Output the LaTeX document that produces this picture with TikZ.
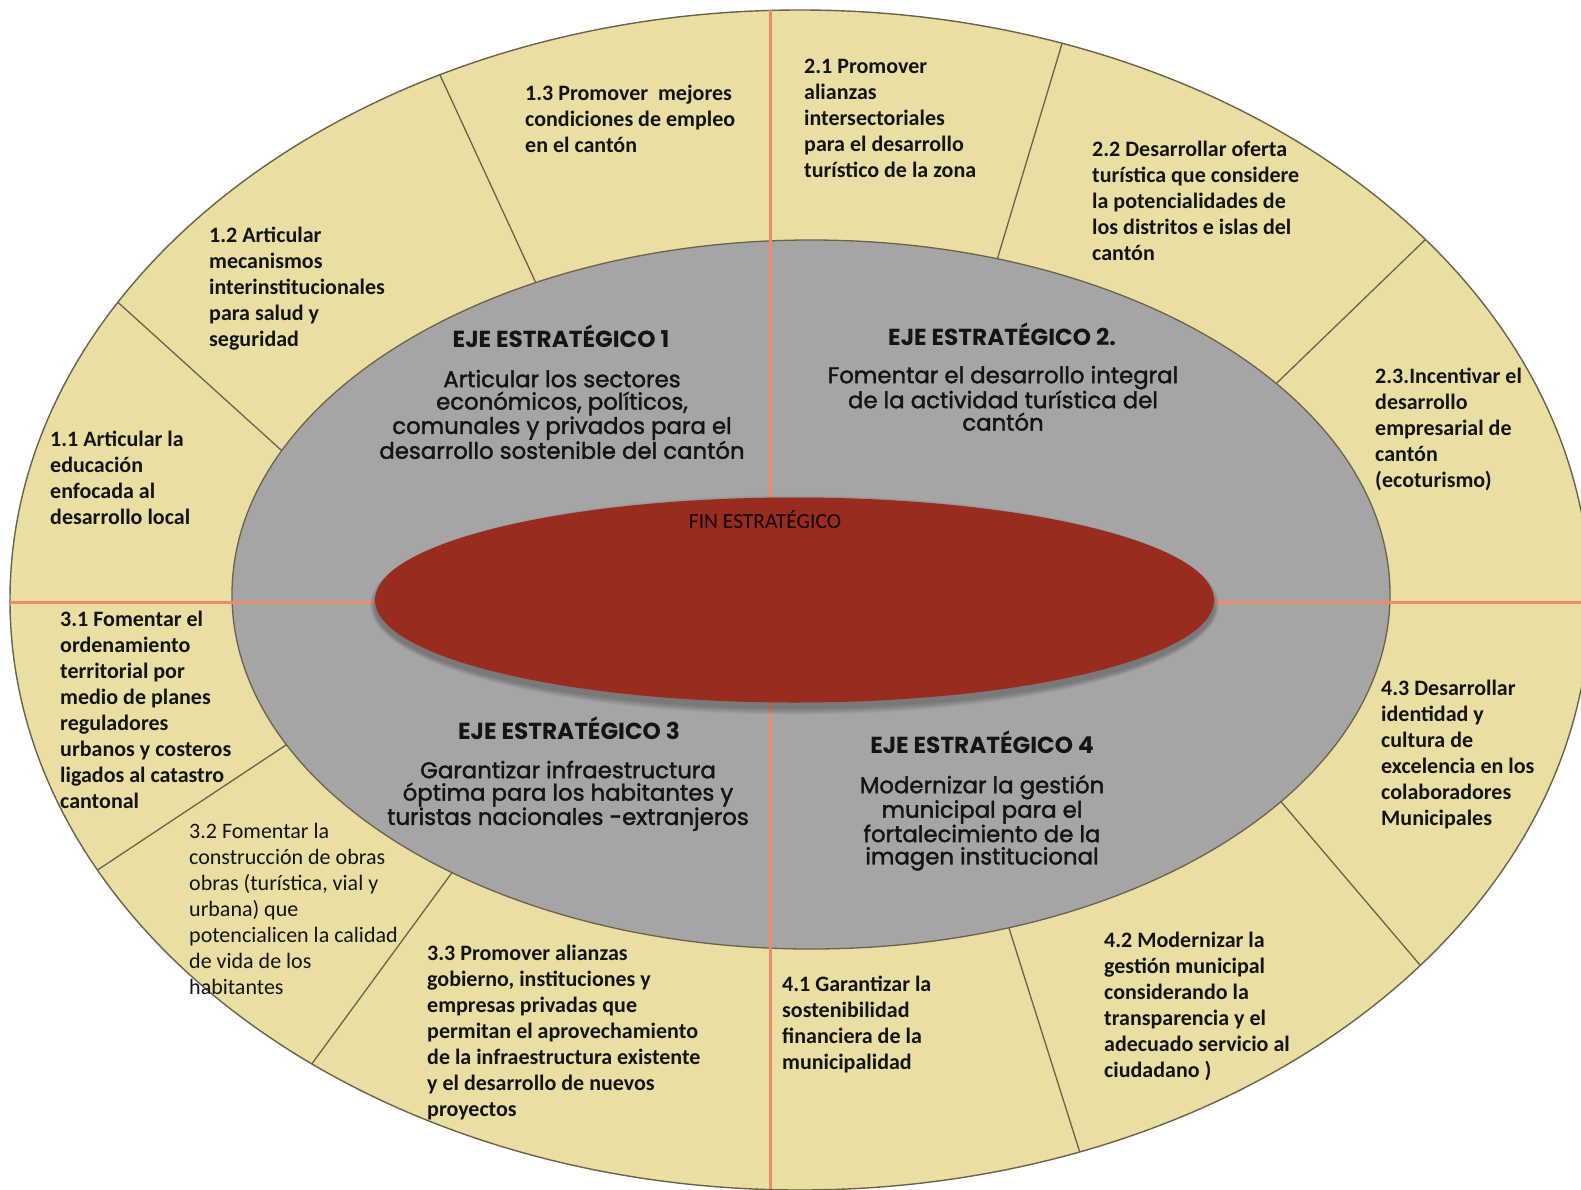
\documentclass[tikz,border=0pt]{standalone}
\usepackage{fontspec}
\setmainfont{Carlito}
\newfontfamily\gothic[FakeBold=1.6]{Poppins}
\newfontfamily\gothichead{Poppins}
\usetikzlibrary{calc}
\definecolor{ring}{HTML}{E9DFA3}
\definecolor{mid}{HTML}{A5A5A5}
\definecolor{core}{HTML}{992B1F}
\definecolor{axis}{HTML}{EF8B6C}
\definecolor{edge}{HTML}{6B624C}
\definecolor{ink}{HTML}{141414}
\newcommand{\fl}{\rule{0pt}{21pt}}
\tikzset{
  item/.style={anchor=north west, inner sep=0pt, align=left, text=ink,
    font=\fontsize{22}{26}\selectfont\bfseries},
  itemreg/.style={item, font=\fontsize{22}{26}\selectfont\mdseries},
  ejehead/.style={anchor=base, inner sep=0pt, text=ink,
    font=\gothichead\bfseries\fontsize{23.2}{24}\selectfont},
  ejebody/.style={anchor=north, inner sep=0pt, align=center, text=ink,
    font=\gothic\fontsize{22.8}{22.4}\selectfont},
  finlabel/.style={anchor=base, inner sep=0pt, text=black!90!core,
    font=\fontsize{21.5}{24}\selectfont},
  divider/.style={draw=edge, line width=1.3pt},
  axisline/.style={draw=axis, line width=3pt},
}
\begin{document}
\begin{tikzpicture}[x=1pt,y=-1pt]
\useasboundingbox (0,0) rectangle (1581,1189);
\clip (0,0) rectangle (1581,1189);
\fill[white] (0,0) rectangle (1581,1189);

% outer ring
\fill[ring] (800,600) ellipse [x radius=790pt, y radius=590pt];

% dividers
\coordinate (d1o) at (122,306);  \coordinate (d1i) at (281,450);
\coordinate (d2o) at (440,75);   \coordinate (d2i) at (535,281);
\coordinate (d3o) at (1061,47);  \coordinate (d3i) at (997,260);
\coordinate (d4o) at (1428,237); \coordinate (d4i) at (1283,377);
\coordinate (d5o) at (99,869);   \coordinate (d5i) at (283,747);
\coordinate (d6o) at (311,1065); \coordinate (d6i) at (448,878);
\coordinate (d7o) at (1081,1156);\coordinate (d7i) at (1008,925);
\coordinate (d8o) at (1420,965); \coordinate (d8i) at (1277,797);
\begin{scope}
  \clip (800,600) ellipse [x radius=790pt, y radius=590pt];
  \foreach \k in {1,...,8}{
    \draw[divider] ($(d\k o)!-0.1!(d\k i)$) -- ($(d\k i)!-0.2!(d\k o)$);
  }
\end{scope}
\draw[edge, line width=1.4pt] (800,600) ellipse [x radius=790pt, y radius=590pt];

% middle ellipse
\filldraw[fill=mid, draw=edge, line width=1.3pt] (811,594.5) ellipse [x radius=579pt, y radius=354.5pt];

% axes
\draw[axisline] (770,10) -- (770,1189);
\draw[axisline] (10,602) -- (1581,602);

% core with shadow
\foreach \s in {1,...,8}{
  \fill[black, opacity=0.035] (794.5,605) ellipse [x radius={419.5pt+\s pt*0.6}, y radius={102.5pt+\s pt*0.9}];
}
\fill[core] (794.5,600) ellipse [x radius=419.5pt, y radius=102.5pt];
\node[finlabel] (fin) at (765,528) {FIN ESTRATÉGICO};

% axis headings and bodies
\node[ejehead] (h1) at (561,347) {EJE ESTRATÉGICO 1};
\node[ejebody] (b1) at (562,366) {\fl Articular los sectores\\económicos, políticos,\\comunales y privados para el\\desarrollo sostenible del cantón};
\node[ejehead] (h2) at (1002,345) {EJE ESTRATÉGICO 2.};
\node[ejebody] (b2) at (1003,362) {\fl Fomentar el desarrollo integral\\de la actividad turística del\\cantón};
\node[ejehead] (h3) at (569,739) {EJE ESTRATÉGICO 3};
\node[ejebody] (b3) at (568,757) {\fl Garantizar infraestructura\\óptima para los habitantes y\\turistas nacionales -extranjeros};
\node[ejehead] (h4) at (982,753) {EJE ESTRATÉGICO 4};
\node[ejebody] (b4) at (982,772) {\fl Modernizar la gestión\\municipal para el\\fortalecimiento de la\\imagen institucional};

% ring items
\node[item] (i13) at (525,79) {\fl 1.3 Promover~ mejores\\condiciones de empleo\\en el cantón};
\node[item] (i12) at (209,221) {\fl 1.2 Articular\\mecanismos\\interinstitucionales\\para salud y\\seguridad};
\node[item] (i11) at (50,425) {\fl 1.1 Articular la\\educación\\enfocada al\\desarrollo local};
\node[item] (i21) at (804,52) {\fl 2.1 Promover\\alianzas\\intersectoriales\\para el desarrollo\\turístico de la zona};
\node[item] (i22) at (1092,135) {\fl 2.2 Desarrollar oferta\\turística que considere\\la potencialidades de\\los distritos e islas del\\cantón};
\node[item] (i23) at (1375,362) {\fl 2.3.Incentivar el\\desarrollo\\empresarial de\\cantón\\(ecoturismo)};
\node[item] (i31) at (60,605) {\fl 3.1 Fomentar el\\ordenamiento\\territorial por\\medio de planes\\reguladores\\urbanos y costeros\\ligados al catastro\\cantonal};
\node[itemreg] (i32) at (189,817) {\fl 3.2 Fomentar la\\construcción de obras\\obras (turística, vial y\\urbana) que\\potencialicen la calidad\\de vida de los\\habitantes};
\node[item] (i33) at (427,939) {\fl 3.3 Promover alianzas\\gobierno, instituciones y\\empresas privadas que\\permitan el aprovechamiento\\de la infraestructura existente\\y el desarrollo de nuevos\\proyectos};
\node[item] (i41) at (782,970) {\fl 4.1 Garantizar la\\sostenibilidad\\financiera de la\\municipalidad};
\node[item] (i42) at (1104,926) {\fl 4.2 Modernizar la\\gestión municipal\\considerando la\\transparencia y el\\adecuado servicio al\\ciudadano )};
\node[item] (i43) at (1381,674) {\fl 4.3 Desarrollar\\identidad y\\cultura de\\excelencia en los\\colaboradores\\Municipales};
\end{tikzpicture}
\end{document}
